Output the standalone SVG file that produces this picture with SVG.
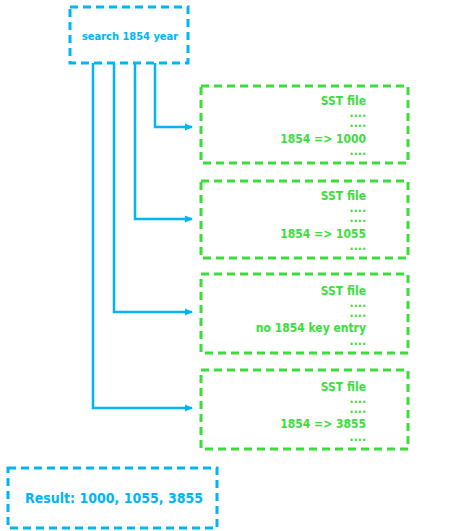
<svg xmlns="http://www.w3.org/2000/svg" width="457" height="531" viewBox="0 0 457 531">
<style>
.bbox{fill:none;stroke:#00b4f5;stroke-width:3;stroke-dasharray:8 5}
.gbox{fill:none;stroke:#3ddc3d;stroke-width:3;stroke-dasharray:8 5}
.gt{font-family:"DejaVu Sans Condensed","DejaVu Sans",sans-serif;font-stretch:condensed;font-weight:bold;font-size:12px;fill:#3ddc3d;text-anchor:end}
.bt{font-family:"DejaVu Sans Condensed","DejaVu Sans",sans-serif;font-stretch:condensed;font-weight:bold;fill:#00b4f5;text-anchor:middle}
.conn{fill:none;stroke:#00b4f5;stroke-width:2.5}
</style>
<defs>
<marker id="arr" markerWidth="8" markerHeight="8" refX="7" refY="4" orient="auto" markerUnits="userSpaceOnUse">
<path d="M0,0.5 L8,4 L0,7.5 Z" fill="#00b4f5"/>
</marker>
</defs>
<rect width="457" height="531" fill="#ffffff"/>
<g id="connectors">
<path class="conn" d="M155,63 V127 H192" marker-end="url(#arr)"/>
<path class="conn" d="M135,63 V219 H192" marker-end="url(#arr)"/>
<path class="conn" d="M114,63 V312 H192" marker-end="url(#arr)"/>
<path class="conn" d="M93,63 V408 H192" marker-end="url(#arr)"/>
</g>
<g id="search">
<rect class="bbox" x="70" y="7" width="118" height="56"/>
<text class="bt" x="130" y="40" font-size="11">search 1854 year</text>
</g>
<g id="sst1">
<rect class="gbox" x="201" y="86" width="207" height="77"/>
<text class="gt" x="366" y="105">SST file</text>
<text class="gt" x="366" y="117">....</text>
<text class="gt" x="366" y="127">....</text>
<text class="gt" x="366" y="143">1854 =&gt; 1000</text>
<text class="gt" x="366" y="155">....</text>
</g>
<g id="sst2">
<rect class="gbox" x="201" y="181" width="207" height="77"/>
<text class="gt" x="366" y="200">SST file</text>
<text class="gt" x="366" y="212">....</text>
<text class="gt" x="366" y="222">....</text>
<text class="gt" x="366" y="238">1854 =&gt; 1055</text>
<text class="gt" x="366" y="250">....</text>
</g>
<g id="sst3">
<rect class="gbox" x="201" y="274" width="207" height="79"/>
<text class="gt" x="366" y="295">SST file</text>
<text class="gt" x="366" y="307">....</text>
<text class="gt" x="366" y="317">....</text>
<text class="gt" x="366" y="332">no 1854 key entry</text>
<text class="gt" x="366" y="345">....</text>
</g>
<g id="sst4">
<rect class="gbox" x="201" y="370" width="207" height="79"/>
<text class="gt" x="366" y="391">SST file</text>
<text class="gt" x="366" y="403">....</text>
<text class="gt" x="366" y="413">....</text>
<text class="gt" x="366" y="428">1854 =&gt; 3855</text>
<text class="gt" x="366" y="441">....</text>
</g>
<g id="result">
<rect class="bbox" x="8" y="468" width="209" height="60"/>
<text class="bt" x="114" y="503" font-size="14">Result: 1000, 1055, 3855</text>
</g>
</svg>
